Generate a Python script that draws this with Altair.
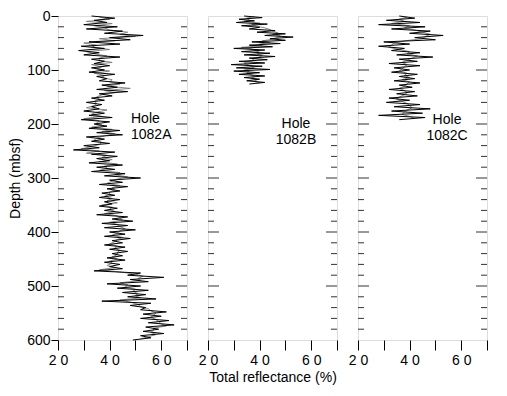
import altair as alt
import pandas as pd

# ---------------- data ----------------
depth_a = list(range(0, 601, 4))
refl_a = [
    33, 42, 34, 39, 30, 43, 31, 45, 38, 53,
    40, 48, 32, 44, 29, 38, 28, 36, 30, 44,
    33, 38, 34, 40, 33, 38, 32, 42, 35, 39,
    36, 46, 37, 43, 35, 47, 36, 41, 33, 38,
    31, 37, 33, 36, 30, 38, 32, 41, 29, 40,
    34, 39, 32, 44, 35, 45, 31, 38, 33, 40,
    30, 36, 26, 42, 33, 43, 35, 40, 32, 45,
    35, 42, 33, 46, 38, 52, 40, 45, 36, 47,
    39, 44, 37, 42, 36, 44, 38, 41, 36, 43,
    38, 45, 35, 47, 41, 49, 37, 47, 38, 50,
    40, 46, 38, 48, 41, 45, 38, 46, 40, 47,
    41, 45, 39, 46, 38, 44, 40, 45, 34, 52,
    47, 61, 48, 55, 39, 52, 43, 55, 45, 54,
    47, 58, 37, 56, 48, 54, 52, 62, 53, 60,
    52, 63, 55, 65, 54, 59, 53, 61, 52, 56,
    49,
]
depth_a2 = list(range(2, 599, 4))
refl_a2 = [
    36, 40, 31, 41, 34, 38, 40, 47, 44, 50,
    36, 42, 30, 35, 33, 40, 31, 34, 39, 36,
    36, 41, 33, 37, 35, 40, 34, 38, 37, 41,
    40, 44, 39, 48, 38, 42, 37, 35, 36, 34,
    35, 34, 31, 39, 35, 33, 37, 30, 36, 35,
    37, 33, 41, 37, 42, 38, 35, 34, 37, 36,
    33, 29, 36, 31, 39, 37, 41, 36, 43, 38,
    39, 36, 44, 42, 47, 43, 41, 39, 44, 41,
    42, 40, 40, 38, 41, 39, 43, 37, 41, 40,
    42, 38, 43, 44, 45, 40, 43, 44, 46, 44,
    43, 41, 45, 43, 42, 40, 43, 42, 44, 43,
    43, 41, 43, 40, 41, 39, 42, 36, 44, 50,
    53, 51, 52, 44, 47, 46, 50, 49, 51, 50,
    52, 44, 48, 51, 52, 55, 56, 58, 57, 56,
    58, 59, 60, 62, 57, 57, 56, 58, 55, 52,
]

depth_b = list(range(0, 127, 3))
refl_b = [
    34, 41, 32, 38, 31, 43, 33, 40, 36, 46,
    39, 50, 42, 53, 44, 50, 37, 48, 36, 45,
    30, 42, 33, 44, 34, 46, 36, 43, 32, 42,
    29, 41, 31, 44, 30, 40, 32, 42, 34, 40,
    35, 42, 36,
]
depth_b2 = list(range(1, 127, 3))
refl_b2 = [
    38, 35, 36, 34, 40, 37, 39, 42, 44, 45,
    47, 45, 48, 47, 45, 41, 44, 40, 41, 33,
    37, 38, 40, 39, 41, 40, 37, 38, 35, 34,
    36, 37, 38, 34, 36, 35, 37, 38, 37, 39,
    38, 40,
]

depth_c = list(range(0, 193, 4))
refl_c = [
    36, 42, 31, 44, 28, 46, 33, 48, 40, 53,
    42, 50, 30, 40, 28, 38, 33, 44, 35, 49,
    36, 43, 32, 44, 34, 40, 33, 43, 36, 42,
    34, 44, 36, 41, 32, 42, 35, 43, 32, 40,
    31, 44, 34, 48, 33, 45, 28, 46, 36,
]
depth_c2 = list(range(2, 191, 4))
refl_c2 = [
    39, 36, 38, 33, 40, 38, 42, 45, 48, 46,
    45, 38, 34, 33, 32, 36, 40, 39, 43, 41,
    39, 37, 39, 38, 37, 36, 39, 38, 40, 37,
    40, 39, 38, 36, 38, 39, 38, 36, 35, 37,
    39, 40, 41, 39, 38, 37, 40, 42,
]

holes = ["Hole\n1082A", "Hole\n1082B", "Hole\n1082C"]
label_x = [48.3, 54.1, 54.5]
label_depth = [178, 187, 180]
label_align = ["left", "center", "center"]

x_ticks = [20, 30, 40, 50, 60, 70]
depth_major = [0, 100, 200, 300, 400, 500, 600]
depth_minor = [d for d in range(20, 600, 20) if d % 100 != 0]
depth_major_inner = [100, 200, 300, 400, 500]

FONT = "Liberation Sans"
W, H = 129, 324

yscale = alt.Scale(domain=[0, 600], reverse=True, nice=False, zero=False)
xscale = alt.Scale(domain=[20, 70], nice=False, zero=False)


def make_panel(depths, refl, depths2, refl2, idx, show_y, x_title):
    df = pd.DataFrame({"depth": depths, "refl": refl})
    df2 = pd.DataFrame({"depth": depths2, "refl": refl2})
    if show_y:
        yaxis = alt.Axis(values=depth_major, tickSize=7, labelPadding=1,
                         labelFontSize=14, labelFlush=False, labelColor="black",
                         title="Depth (mbsf)", titleFontSize=14,
                         titleFontWeight="normal", titlePadding=4,
                         titleColor="black", domain=False, grid=False,
                         tickColor="black")
    else:
        yaxis = None
    xaxis = alt.Axis(values=x_ticks,
                     labelExpr="datum.value % 20 === 0 ? join(split(datum.label, ''), ' ') : ''",
                     tickSize=10, labelPadding=3, labelFontSize=14,
                     labelFlush=False, labelOverlap=False, labelColor="black",
                     title=x_title if x_title else None,
                     titleFontSize=14, titleFontWeight="normal",
                     titlePadding=3, titleColor="black",
                     domain=False, grid=False, tickColor="black")

    gray = alt.Chart(df2).mark_line(color="#7a7a7a", strokeWidth=0.9).encode(
        x=alt.X("refl:Q", scale=xscale, axis=xaxis),
        y=alt.Y("depth:Q", scale=yscale, axis=yaxis),
        order="depth:Q",
    )
    line = alt.Chart(df).mark_line(color="#000000", strokeWidth=1.0).encode(
        x=alt.X("refl:Q", scale=xscale, axis=xaxis),
        y=alt.Y("depth:Q", scale=yscale, axis=yaxis),
        order="depth:Q",
    )

    minor_df = pd.DataFrame({"depth": depth_minor})
    major_df = pd.DataFrame({"depth": depth_major_inner})

    def rules(data, x0, x1):
        return alt.Chart(data).mark_rule(color="#333333", strokeWidth=1).encode(
            y=alt.Y("depth:Q", scale=yscale, axis=yaxis),
            x=alt.value(x0), x2=alt.value(x1),
        )

    layers = [gray, line,
              rules(minor_df, 0, 6),
              rules(minor_df, W - 6, W),
              rules(major_df, W - 11, W)]
    if not show_y:
        layers.append(rules(major_df, 0, 11))

    lab_df = pd.DataFrame({"refl": [label_x[idx]], "depth": [label_depth[idx]],
                           "txt": [holes[idx]]})
    text = alt.Chart(lab_df).mark_text(
        align=label_align[idx], baseline="top", fontSize=14, font=FONT,
        lineBreak="\n", lineHeight=16, color="black",
    ).encode(
        x=alt.X("refl:Q", scale=xscale, axis=xaxis),
        y=alt.Y("depth:Q", scale=yscale, axis=yaxis),
        text="txt:N",
    )
    layers.append(text)
    return alt.layer(*layers).properties(width=W, height=H)


pa = make_panel(depth_a, refl_a, depth_a2, refl_a2, 0, True, None)
pb = make_panel(depth_b, refl_b, depth_b2, refl_b2, 1, False, "Total reflectance (%)")
pc = make_panel(depth_c, refl_c, depth_c2, refl_c2, 2, False, None)

chart = alt.hconcat(pa, pb, pc, spacing=21, bounds="flush").properties(
    padding={"left": 0, "top": 0, "right": 0, "bottom": 0}
).configure_view(
    stroke="#333333", strokeWidth=1
).configure_axis(
    labelFont=FONT, titleFont=FONT
).configure(background="white")

chart.save("out.html", embed_options={"renderer": "svg", "actions": False})
